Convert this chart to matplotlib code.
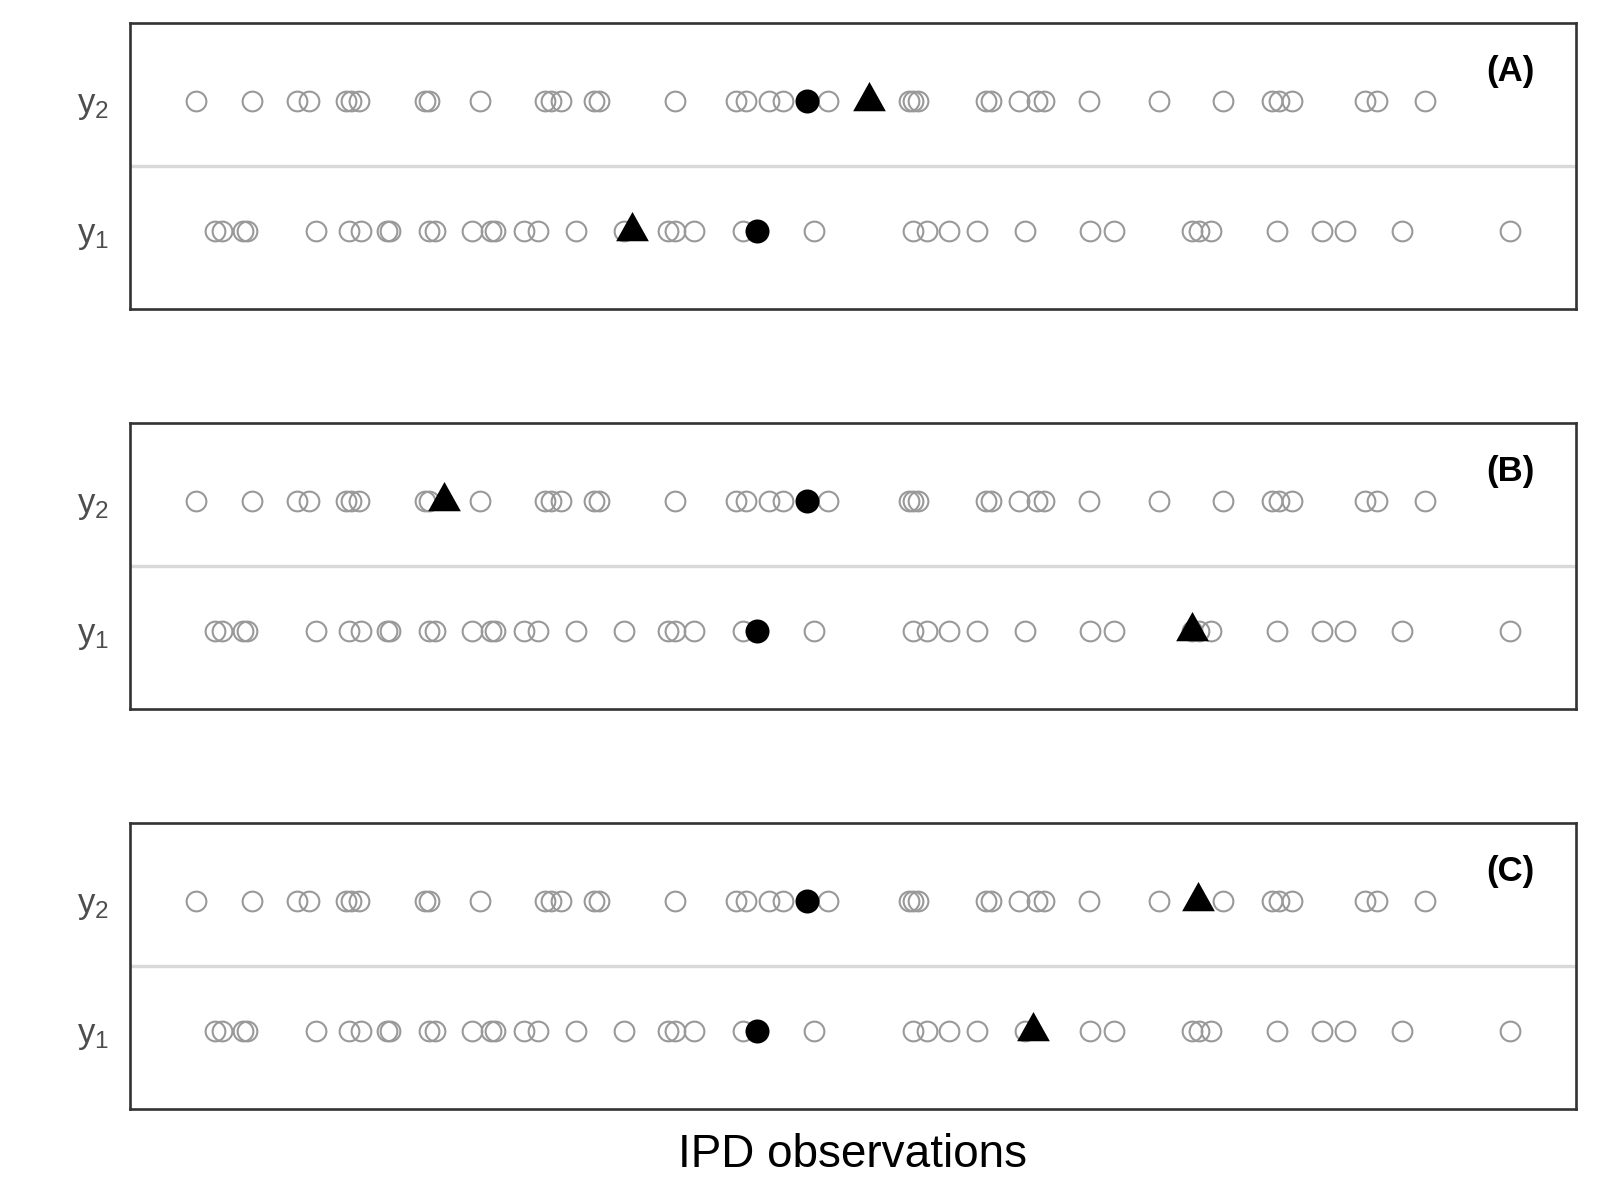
import numpy as np
import matplotlib
matplotlib.use("Agg")
import matplotlib.pyplot as plt

plt.rcParams['font.family'] = ['Liberation Sans', 'DejaVu Sans']
plt.rcParams['mathtext.fontset'] = 'custom'
plt.rcParams['mathtext.rm'] = 'Liberation Sans'
plt.rcParams['mathtext.it'] = 'Liberation Sans'

# IPD observations (arbitrary x scale)
obs_y2 = [195.5, 252.1, 297.0, 308.8, 345.6, 351.2, 358.3, 424.5, 428.7, 479.6,
          544.7, 550.4, 561.2, 593.3, 599.0, 674.5, 735.8, 745.3, 768.9, 783.0,
          827.9, 908.4, 913.1, 917.9, 986.3, 991.0, 1018.4, 1037.3, 1043.9, 1088.7,
          1158.5, 1223.2, 1271.8, 1278.9, 1292.1, 1364.8, 1377.0, 1425.2]
obs_y1 = [214.4, 221.5, 242.7, 246.5, 315.8, 348.9, 360.7, 386.6, 389.9, 429.1,
          435.2, 471.6, 490.5, 495.2, 523.5, 537.7, 575.4, 624.0, 667.4, 674.5,
          693.4, 742.9, 813.7, 913.1, 927.3, 948.5, 976.9, 1025.0, 1090.1, 1113.7,
          1191.6, 1198.7, 1210.5, 1276.5, 1321.4, 1345.0, 1401.6, 1510.1]

# target individual (filled circle), same in every panel
target_y2 = 806.6
target_y1 = 757.1

# triangle per panel
panel_names = ['(A)', '(B)', '(C)']
tri_y2 = [869.3, 443.3, 1198.3]
tri_y1 = [632.0, 1191.7, 1033.3]

# ggplot-like 5% expansion of the x range
all_x = obs_y1 + obs_y2
lo, hi = min(all_x), max(all_x)
pad = 0.05 * (hi - lo)

tri_marker = [(0, 1.0), (-0.838, -0.5), (0.838, -0.5), (0, 1.0)]

fig = plt.figure(figsize=(16, 12), dpi=100)
bottoms = [0.7425, 0.4092, 0.0758]

for i, name in enumerate(panel_names):
    ax = fig.add_axes([0.08125, bottoms[i], 0.90375, 0.2383])
    ax.axhline(1.5, color='#D9D9D9', lw=2.4, zorder=1)
    ax.plot(obs_y2, [2] * len(obs_y2), 'o', ls='none', ms=14.2, mfc='none',
            mec='#999999', mew=1.5, zorder=2)
    ax.plot(obs_y1, [1] * len(obs_y1), 'o', ls='none', ms=14.2, mfc='none',
            mec='#999999', mew=1.5, zorder=2)
    ax.plot([target_y2, target_y1], [2, 1], 'o', ls='none', ms=17.3,
            color='black', mew=0, zorder=3)
    ax.plot([tri_y2[i], tri_y1[i]], [2, 1], marker=tri_marker, ls='none',
            ms=28.1, color='black', mew=0, zorder=4)
    ax.text(hi, 2.23, name, ha='center', va='center', fontsize=25,
            color='black', fontweight='bold')

    ax.set_xlim(lo - pad, hi + pad)
    ax.set_ylim(0.4, 2.6)
    ax.set_xticks([])
    ax.set_yticks([1, 2])
    ax.set_yticklabels([r'$\mathregular{y_1}$', r'$\mathregular{y_2}$'])
    ax.tick_params(axis='y', length=0, pad=15, labelsize=25, labelcolor='#4D4D4D')
    for s in ax.spines.values():
        s.set_color('#333333')
        s.set_linewidth(1.9)

fig.text(0.533, 0.0278, 'IPD observations', ha='center', va='baseline',
         fontsize=33, color='black')

fig.savefig('out.png', dpi=100)
